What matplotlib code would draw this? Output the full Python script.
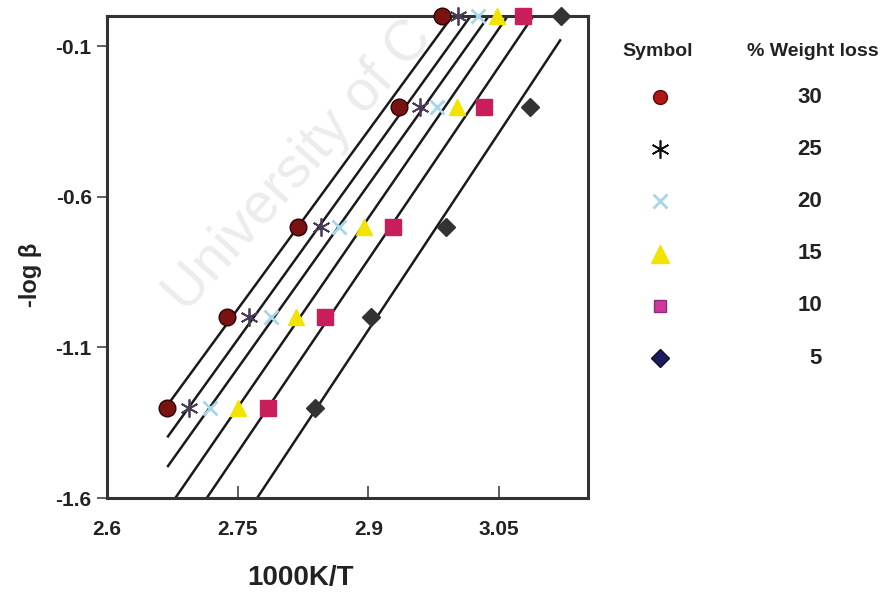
import numpy as np
import matplotlib
matplotlib.use("Agg")
import matplotlib.pyplot as plt

plt.rcParams['font.family'] = ['Liberation Sans', 'DejaVu Sans']

# -log(beta) for the five heating rates
neg_log_beta = [0.0, -0.301, -0.699, -1.0, -1.301]

# 1000K/T reached at each conversion level, one row per heating rate
weight_loss = [30, 25, 20, 15, 10, 5]
x_30 = [2.985, 2.935, 2.819, 2.738, 2.669]
x_25 = [3.003, 2.959, 2.846, 2.763, 2.694]
x_20 = [3.026, 2.979, 2.866, 2.788, 2.718]
x_15 = [3.048, 3.002, 2.895, 2.817, 2.750]
x_10 = [3.077, 3.033, 2.928, 2.850, 2.785]
x_5 = [3.121, 3.085, 2.989, 2.903, 2.839]
series_x = [x_30, x_25, x_20, x_15, x_10, x_5]

fit_range = [2.67, 3.12]

x_ticks = [2.6, 2.75, 2.9, 3.05]
x_tick_labels = ['2.6', '2.75', '2.9', '3.05']
y_ticks = [-0.1, -0.6, -1.1, -1.6]
y_tick_labels = ['-0.1', '-0.6', '-1.1', '-1.6']

# marker styles: (marker, size, face, edge, edge width)
plot_styles = [
    ('o', 12, '#7a1212', '#2a0505', 1.0),
    ((6, 2, 0), 13, '#4a3d58', '#4a3d58', 1.3),
    ('x', 10, '#a6d6ea', '#a6d6ea', 2.0),
    ('^', 12, '#f2e400', '#f2e400', 1.0),
    ('s', 12, '#c81f5c', '#c81f5c', 1.0),
    ('D', 9, '#333333', '#333333', 1.0),
]
legend_styles = [
    ('o', 10, '#b01818', '#5a0a0a', 1.0),
    ((6, 2, 0), 13, '#111111', '#111111', 1.2),
    ('x', 10, '#a6d6ea', '#a6d6ea', 2.0),
    ('^', 13, '#f2e400', '#f2e400', 1.0),
    ('s', 9, '#d0389c', '#8a2a80', 1.0),
    ('D', 9, '#1c1c5c', '#101030', 1.0),
]

fig = plt.figure(figsize=(8.88, 5.93), dpi=100)

# faint diagonal watermark behind the plot
fig.text(186 / 888, 1 - 314 / 593, 'University of C', rotation=48,
         rotation_mode='anchor', ha='left', va='baseline', fontsize=41,
         color='#ececec', zorder=-5)

ax = fig.add_axes([107 / 888, 1 - 498 / 593, 481 / 888, 482 / 593])
ax.patch.set_alpha(0)

xs_line = np.linspace(fit_range[0], fit_range[1], 50)
for xs, st in zip(series_x, plot_styles):
    slope, intercept = np.polyfit(xs, neg_log_beta, 1)
    ax.plot(xs_line, slope * xs_line + intercept, color='#1a1a1a', lw=1.8,
            zorder=2)
for xs, st in zip(series_x, plot_styles):
    m, ms, fc, ec, mew = st
    ax.plot(xs, neg_log_beta, linestyle='none', marker=m, markersize=ms,
            markerfacecolor=fc, markeredgecolor=ec, markeredgewidth=mew,
            clip_on=False, zorder=4)

ax.set_xlim(2.6, 3.152)
ax.set_ylim(-1.6, 0.0)
ax.set_xticks(x_ticks)
ax.set_xticklabels(x_tick_labels, fontsize=15, fontweight='bold', color='#222222')
ax.set_yticks(y_ticks)
ax.set_yticklabels(y_tick_labels, fontsize=15, fontweight='bold', color='#222222')
ax.tick_params(axis='x', direction='in', length=9, width=1.2, pad=16,
               color='#444444')
ax.tick_params(axis='y', direction='out', length=7, width=1.2, pad=4,
               color='#444444')
for sp in ax.spines.values():
    sp.set_linewidth(2.2)
    sp.set_color('#333333')

fig.text(300 / 888, 1 - 578 / 593, '1000K/T', ha='center', va='center',
         fontsize=20, fontweight='bold', color='#222222')
fig.text(30 / 888, 1 - 275 / 593, '-log \u03b2', ha='center', va='center',
         rotation=90, fontsize=17, fontweight='bold', color='#222222')

# key: symbol column and weight-loss column
lax = fig.add_axes([600 / 888, 1 - 390 / 593, 288 / 888, 360 / 593])
lax.set_xlim(600, 888)
lax.set_ylim(5.613, -1.284)
lax.axis('off')
lax.text(658, -0.87, 'Symbol', ha='center', va='center', fontsize=14,
         fontweight='bold', color='#222222')
lax.text(813, -0.87, '% Weight loss', ha='center', va='center', fontsize=14,
         fontweight='bold', color='#222222')
for i, (wl, st) in enumerate(zip(weight_loss, legend_styles)):
    m, ms, fc, ec, mew = st
    lax.plot([660], [i], linestyle='none', marker=m, markersize=ms,
             markerfacecolor=fc, markeredgecolor=ec, markeredgewidth=mew)
    lax.text(822, i, str(wl), ha='right', va='center', fontsize=16,
             fontweight='bold', color='#222222')

fig.savefig('out.png', dpi=100)
